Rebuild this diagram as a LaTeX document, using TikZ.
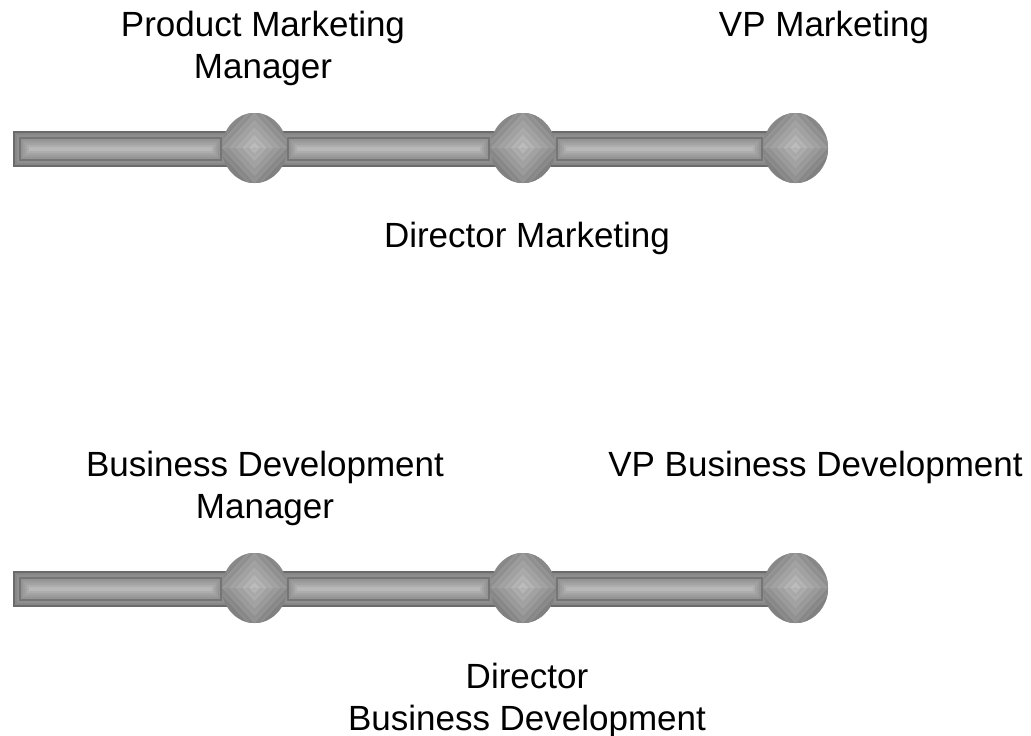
\documentclass[tikz,border=0pt]{standalone}
\usepackage{fontspec}
\setmainfont{Liberation Sans}
\usetikzlibrary{calc,positioning,backgrounds,shapes.geometric}

% one segment of the rail, between two points on its centre line
\newcommand{\railseg}[2]{%
  \foreach \k/\sh in {0/58,1/47,2/44,3/54,4/42,5/39,6/36,7/32,8/28} {
    \fill[black!\sh] ($(#1)+(2*\k,18-2*\k)$) rectangle ($(#2)+(-2*\k,-18+2*\k)$);
  }%
}

\begin{document}
\begin{tikzpicture}[
        x=1pt, y=-1pt,
        font=\fontsize{35}{42}\selectfont,
        ball/.style={ellipse, minimum width=65pt, minimum height=70pt, inner sep=0pt,
            path picture={
                \foreach \k in {0,...,13} {
                    \pgfmathtruncatemacro\sh{49-1.6*\k+3*mod(\k,2)}
                    \pgfmathtruncatemacro\sl{\sh-3}
                    \pgfmathsetmacro\dx{46-3.4*\k}
                    \pgfmathsetmacro\dy{1.09*\dx}
                    \fill[black!\sl] ($(path picture bounding box.center)+(-\dx,0)$)
                        -- ++(\dx,-\dy) -- ++(\dx,\dy) -- cycle;
                    \fill[black!\sh] ($(path picture bounding box.center)+(-\dx,0)$)
                        -- ++(\dx,\dy) -- ++(\dx,-\dy) -- cycle;
                }
            }},
        label/.style={inner sep=0pt, align=center}
    ]
        \useasboundingbox (0,0) rectangle (1031,736);

        % marketing track
        \coordinate (ms) at (13,149);
        \node[ball] (m1) at (254.5,148) {};
        \node[ball] (m2) at (523,148) {};
        \node[ball] (m3) at (795.5,148) {};

        \node[label, anchor=north] (pmm) at (263,10.5) {Product Marketing\\Manager};
        \node[label, anchor=base] (vpm) at (824,36) {VP Marketing};
        \node[label, anchor=base] (dm) at (527,247) {Director Marketing};

        % business development track
        \coordinate (bs) at (13,589);
        \node[ball] (b1) at (254.5,588) {};
        \node[ball] (b2) at (523,588) {};
        \node[ball] (b3) at (795.5,588) {};

        \node[label, anchor=north] (bdm) at (265,450.5) {Business Development\\Manager};
        \node[label, anchor=base] (vpbd) at (815.5,476) {VP Business Development};
        \node[label, anchor=north] (dbd) at (527,662.5) {Director\\Business Development};

        \begin{scope}[on background layer]
            \railseg{ms}{$(m1.west)+(6,1)$}
            \railseg{$(m1.east)+(-6,1)$}{$(m2.west)+(6,1)$}
            \railseg{$(m2.east)+(-6,1)$}{$(m3.west)+(6,1)$}
            \railseg{bs}{$(b1.west)+(6,1)$}
            \railseg{$(b1.east)+(-6,1)$}{$(b2.west)+(6,1)$}
            \railseg{$(b2.east)+(-6,1)$}{$(b3.west)+(6,1)$}
        \end{scope}
    \end{tikzpicture}
\end{document}
